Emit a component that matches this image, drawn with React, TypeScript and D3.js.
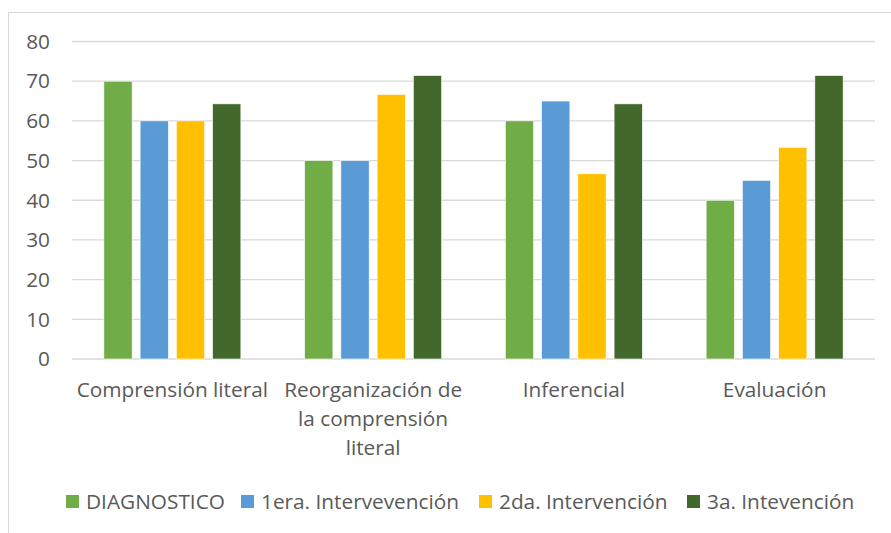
import { useEffect, useRef } from "react"
import * as d3 from "d3"

const categories = [
  ["Comprensión literal"],
  ["Reorganización de", "la comprensión", "literal"],
  ["Inferencial"],
  ["Evaluación"],
]
const seriesNames = ["DIAGNOSTICO", "1era. Intervevención", "2da. Intervención", "3a. Intevención"]
const diagnostico = [70, 50, 60, 40]
const primera = [60, 50, 65, 45]
const segunda = [60, 66.67, 46.67, 53.33]
const tercera = [64.29, 71.43, 64.29, 71.43]
const yTicks = [0, 10, 20, 30, 40, 50, 60, 70, 80]
const colors = ["#70AD47", "#5B9BD5", "#FFC000", "#43682B"]

const W = 891
const H = 533
const FONT = "'Open Sans', sans-serif"
const FS = 20.8

export default function App() {
  const ref = useRef<SVGSVGElement | null>(null)

  useEffect(() => {
    const svg = d3.select(ref.current)
    svg.selectAll("*").remove()

    const margin = { top: 41.5, right: 16, bottom: 174, left: 72 }
    const innerW = W - margin.left - margin.right
    const innerH = H - margin.top - margin.bottom

    // chart area border
    svg.append("rect")
      .attr("x", 8.5).attr("y", 12.5)
      .attr("width", W + 10).attr("height", H + 10)
      .attr("fill", "#fff").attr("stroke", "#D9D9D9")

    const g = svg.append("g").attr("transform", `translate(${margin.left},${margin.top})`)

    const x0 = d3.scaleBand<number>().domain(d3.range(categories.length)).range([0, innerW]).paddingInner(0.3176).paddingOuter(0.1588)
    const x1 = d3.scaleBand<number>().domain(d3.range(seriesNames.length)).range([0, x0.bandwidth()]).paddingInner(0.22).paddingOuter(0)
    const y = d3.scaleLinear().domain([0, 80]).range([innerH, 0])

    g.append("g")
      .selectAll("line")
      .data(yTicks)
      .join("line")
      .attr("x1", 0).attr("x2", innerW)
      .attr("y1", d => y(d)).attr("y2", d => y(d))
      .attr("stroke", "#D9D9D9").attr("stroke-width", 1.3)

    g.append("g")
      .selectAll("text")
      .data(yTicks)
      .join("text")
      .attr("x", -22).attr("y", d => y(d))
      .attr("dy", "0.35em")
      .attr("text-anchor", "end")
      .attr("font-family", FONT).attr("font-size", FS)
      .attr("fill", "#595959")
      .text(d => d)

    const series = [diagnostico, primera, segunda, tercera]
    series.forEach((vals, si) => {
      g.append("g")
        .selectAll("rect")
        .data(vals)
        .join("rect")
        .attr("x", (_, ci) => x0(ci)! + x1(si)!)
        .attr("y", d => y(d))
        .attr("width", x1.bandwidth())
        .attr("height", d => innerH - y(d))
        .attr("fill", colors[si])
        .attr("stroke", "#fff").attr("stroke-width", 0.6)
    })

    const labels = g.append("g")
    categories.forEach((lines, ci) => {
      const cx = x0(ci)! + x0.bandwidth() / 2
      const t = labels.append("text")
        .attr("text-anchor", "middle")
        .attr("font-family", FONT).attr("font-size", FS)
        .attr("fill", "#595959")
      lines.forEach((line, li) => {
        t.append("tspan").attr("x", cx).attr("y", innerH + 38 + li * 29).text(line)
      })
    })

    const legendX = [66, 241, 479, 687]
    const legend = svg.append("g")
    seriesNames.forEach((name, i) => {
      legend.append("rect")
        .attr("x", legendX[i]).attr("y", 495)
        .attr("width", 13).attr("height", 13)
        .attr("fill", colors[i])
      legend.append("text")
        .attr("x", legendX[i] + 20).attr("y", 502)
        .attr("dy", "0.35em")
        .attr("font-family", FONT).attr("font-size", FS)
        .attr("fill", "#595959")
        .text(name)
    })
  }, [])

  return (
    <div style={{ position: "absolute", left: 0, top: 0, width: W, height: H, overflow: "hidden", background: "#fff" }}>
      <svg ref={ref} width={W} height={H} />
    </div>
  )
}
